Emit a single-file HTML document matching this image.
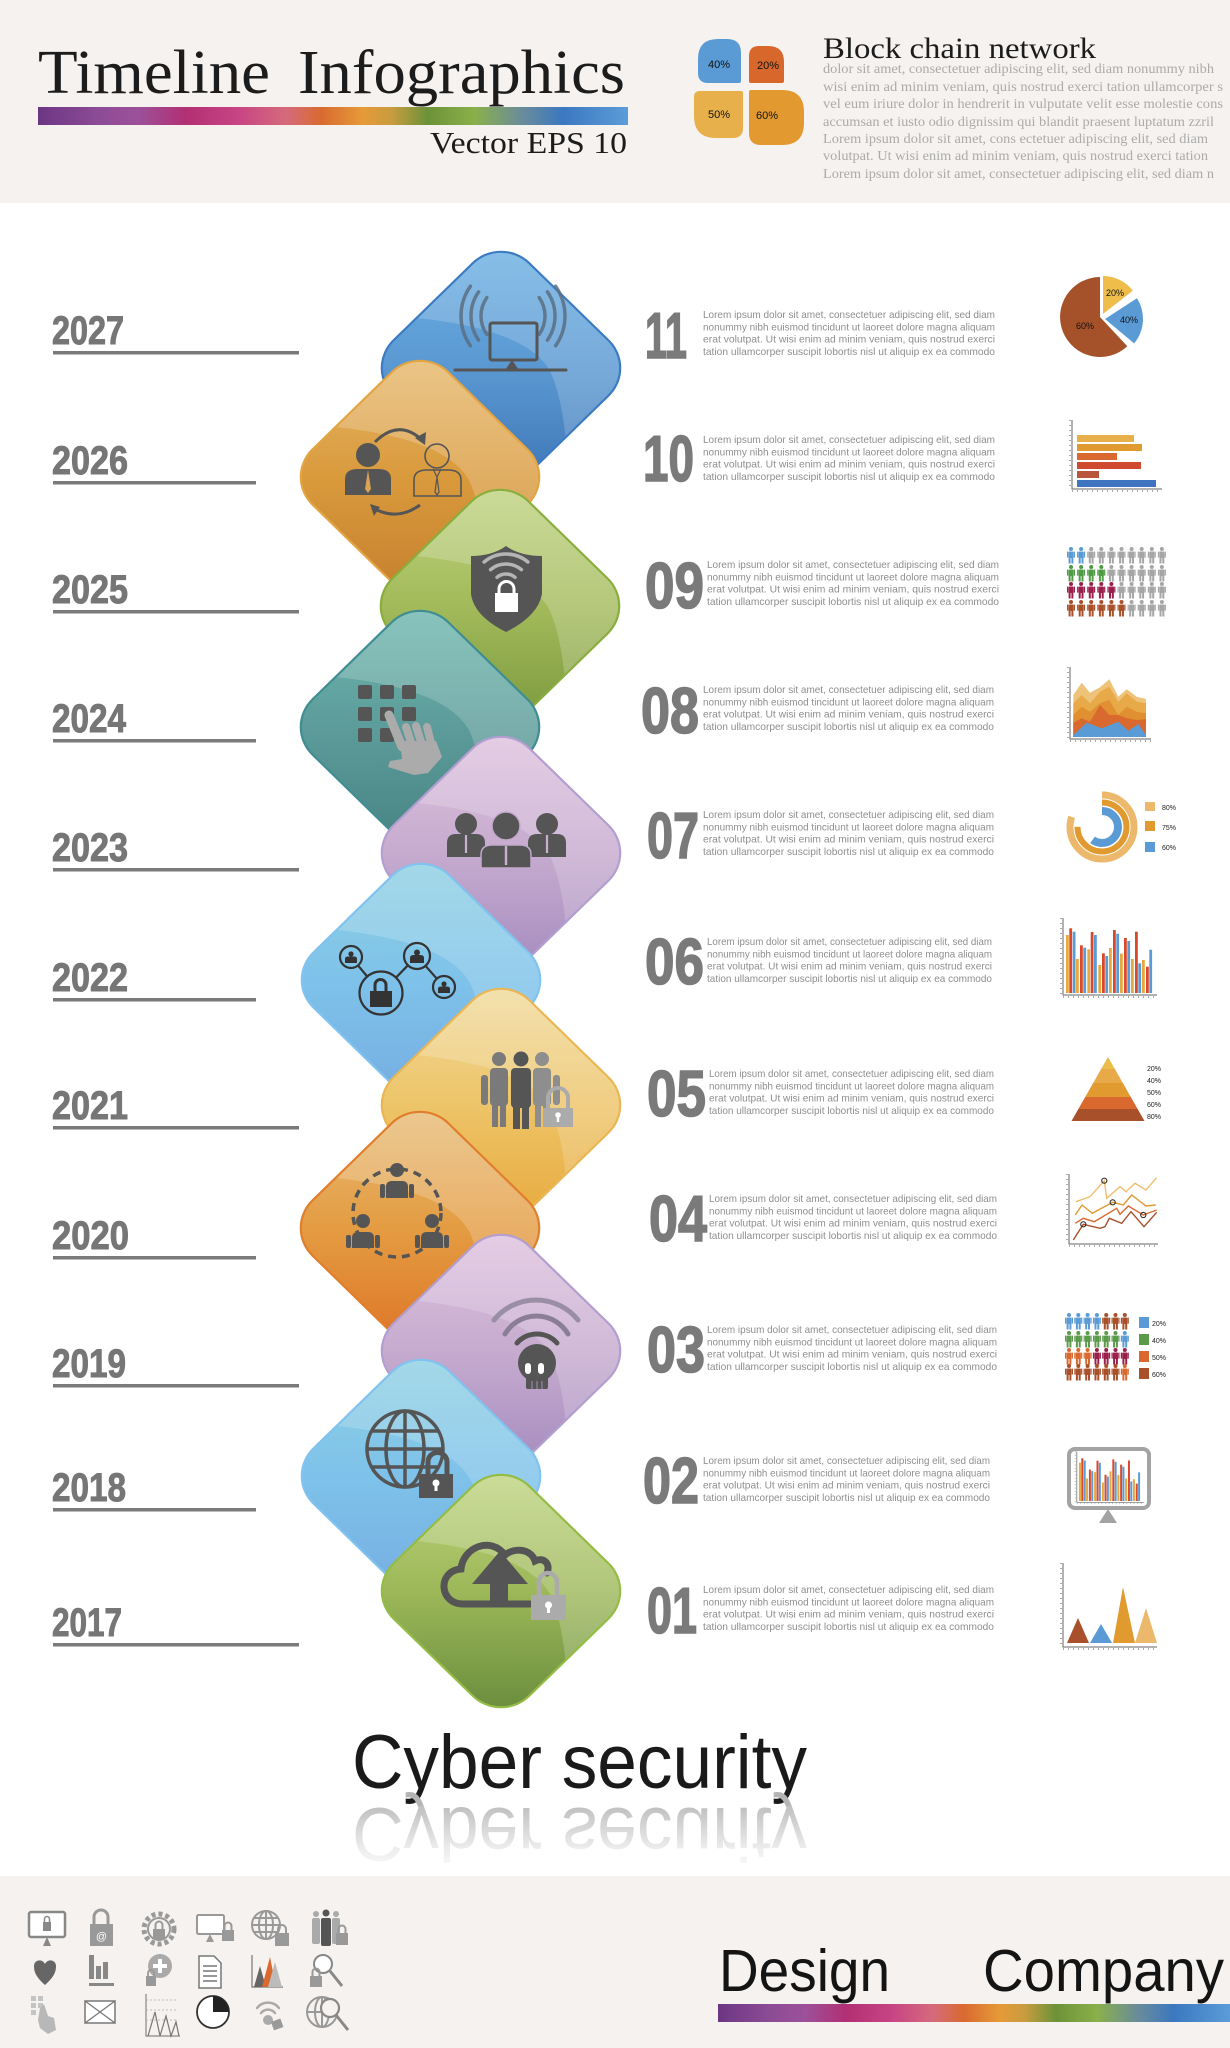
<!DOCTYPE html>
<html><head><meta charset="utf-8">
<style>
html,body{margin:0;padding:0;background:#fff;width:1230px;height:2048px;overflow:hidden;}
svg{display:block;}
.sf{font-family:"Liberation Serif",serif;}
.ss{font-family:"Liberation Sans",sans-serif;}
.yr{font-family:"Liberation Sans",sans-serif;font-weight:bold;font-size:40px;fill:#767676;stroke:#767676;stroke-width:1;}
.nm{font-family:"Liberation Sans",sans-serif;font-weight:bold;font-size:65px;fill:#7a7a7a;stroke:#7a7a7a;stroke-width:1.6;}
.lt{font-family:"Liberation Sans",sans-serif;font-size:10.5px;fill:#8e8e8e;}
.hp{font-family:"Liberation Serif",serif;font-size:13.5px;fill:#ababab;}
.sm{font-family:"Liberation Sans",sans-serif;font-size:7px;fill:#222;}
</style></head><body>
<svg width="1230" height="2048" viewBox="0 0 1230 2048" xmlns="http://www.w3.org/2000/svg">
<defs>
 <linearGradient id="rb" x1="0" y1="0" x2="1" y2="0">
  <stop offset="0" stop-color="#6c3684"/>
  <stop offset="0.1" stop-color="#8c4b95"/>
  <stop offset="0.17" stop-color="#9c5199"/>
  <stop offset="0.25" stop-color="#b22f74"/>
  <stop offset="0.34" stop-color="#c84584"/>
  <stop offset="0.42" stop-color="#d56a7c"/>
  <stop offset="0.48" stop-color="#d96a30"/>
  <stop offset="0.55" stop-color="#e69a38"/>
  <stop offset="0.6" stop-color="#c89c40"/>
  <stop offset="0.66" stop-color="#6c9238"/>
  <stop offset="0.74" stop-color="#8ab04a"/>
  <stop offset="0.82" stop-color="#6a8c9a"/>
  <stop offset="0.89" stop-color="#3b78c0"/>
  <stop offset="1" stop-color="#5c9cd8"/>
 </linearGradient>
 <linearGradient id="gB" x1="0" y1="0" x2="0" y2="1"><stop offset="0" stop-color="#6cb0e2"/><stop offset="0.5" stop-color="#5a98d2"/><stop offset="1" stop-color="#3f76b6"/></linearGradient>
 <linearGradient id="gO" x1="0" y1="0" x2="0" y2="1"><stop offset="0" stop-color="#e6b668"/><stop offset="0.5" stop-color="#d99a3c"/><stop offset="1" stop-color="#c7802e"/></linearGradient>
 <linearGradient id="gG" x1="0" y1="0" x2="0" y2="1"><stop offset="0" stop-color="#bed27e"/><stop offset="0.5" stop-color="#a2ba5a"/><stop offset="1" stop-color="#7c9a3e"/></linearGradient>
 <linearGradient id="gT" x1="0" y1="0" x2="0" y2="1"><stop offset="0" stop-color="#6eb6ae"/><stop offset="0.5" stop-color="#5c9c9a"/><stop offset="1" stop-color="#488484"/></linearGradient>
 <linearGradient id="gP" x1="0" y1="0" x2="0" y2="1"><stop offset="0" stop-color="#dec2de"/><stop offset="0.5" stop-color="#c6abcf"/><stop offset="1" stop-color="#a68cbf"/></linearGradient>
 <linearGradient id="gL" x1="0" y1="0" x2="0" y2="1"><stop offset="0" stop-color="#8ed0e2"/><stop offset="0.5" stop-color="#7ec2ea"/><stop offset="1" stop-color="#76aee2"/></linearGradient>
 <linearGradient id="gY" x1="0" y1="0" x2="0" y2="1"><stop offset="0" stop-color="#f0da9c"/><stop offset="0.5" stop-color="#edc468"/><stop offset="1" stop-color="#e8aa3e"/></linearGradient>
 <linearGradient id="gO2" x1="0" y1="0" x2="0" y2="1"><stop offset="0" stop-color="#e6ba74"/><stop offset="0.5" stop-color="#e49c42"/><stop offset="1" stop-color="#de7628"/></linearGradient>
 <linearGradient id="gG2" x1="0" y1="0" x2="0" y2="1"><stop offset="0" stop-color="#bed47e"/><stop offset="0.5" stop-color="#9cb858"/><stop offset="1" stop-color="#6c8e3e"/></linearGradient>
 <linearGradient id="fade" x1="0" y1="0" x2="0" y2="1"><stop offset="0" stop-color="#fff" stop-opacity="0.15"/><stop offset="0.6" stop-color="#fff" stop-opacity="0.75"/><stop offset="1" stop-color="#fff" stop-opacity="1"/></linearGradient>
 <path id="dia" d="M-28.28,-107.48 A40,40 0 0 1 28.28,-107.48 L107.48,-28.28 A40,40 0 0 1 107.48,28.28 L28.28,107.48 A40,40 0 0 1 -28.28,107.48 L-107.48,28.28 A40,40 0 0 1 -107.48,-28.28 Z"/>
 <clipPath id="dclip"><use href="#dia"/></clipPath>
 <path id="hl" d="M-130,-55 C-40,-50 30,-35 50,5 C62,35 66,70 68,130 L150,130 L150,-150 L-130,-150 Z"/>
 <g id="man">
  <circle cx="0" cy="2" r="2"/>
  <rect x="-2.6" y="4.5" width="5.2" height="6.5" rx="0.8"/>
  <rect x="-4" y="4.6" width="1.2" height="6"/>
  <rect x="2.8" y="4.6" width="1.2" height="6"/>
  <rect x="-2.4" y="10.5" width="2" height="6"/>
  <rect x="0.4" y="10.5" width="2" height="6"/>
 </g>
</defs>

<!-- backgrounds -->
<rect x="0" y="0" width="1230" height="203" fill="#f6f2ef"/>
<rect x="0" y="203" width="1230" height="1673" fill="#ffffff"/>
<rect x="0" y="1876" width="1230" height="172" fill="#f6f2ef"/>

<!-- header -->
<text class="sf" x="38" y="93" font-size="62" fill="#1c1c1c" textLength="232" lengthAdjust="spacingAndGlyphs">Timeline</text>
<text class="sf" x="298" y="93" font-size="62" fill="#1c1c1c" textLength="327" lengthAdjust="spacingAndGlyphs">Infographics</text>
<rect x="38" y="107" width="590" height="18" fill="url(#rb)"/>
<text class="sf" x="430" y="153" font-size="31" fill="#1c1c1c" textLength="197" lengthAdjust="spacingAndGlyphs">Vector  EPS 10</text>

<path d="M718,39 H727 Q741,39 741,53 V81 Q741,83 739,83 H708 Q698,83 698,73 V59 Q698,39 718,39 Z" fill="#5b9bd5"/>
<path d="M759,46 H768 Q784,46 784,62 V81 Q784,83 782,83 H751 Q749,83 749,81 V56 Q749,46 759,46 Z" fill="#d8672c"/>
<path d="M700,91 H741 Q743,91 743,93 V128 Q743,138 733,138 H716 Q694,138 694,116 V97 Q694,91 700,91 Z" fill="#e8b04a"/>
<path d="M751,90 H782 Q804,90 804,112 V123 Q804,145 782,145 H761 Q749,145 749,133 V92 Q749,90 751,90 Z" fill="#e29a30"/>
<text class="ss" x="719" y="68" font-size="11" fill="#111" text-anchor="middle">40%</text>
<text class="ss" x="768" y="69" font-size="11" fill="#111" text-anchor="middle">20%</text>
<text class="ss" x="719" y="118" font-size="11" fill="#111" text-anchor="middle">50%</text>
<text class="ss" x="767" y="119" font-size="11" fill="#111" text-anchor="middle">60%</text>

<text class="sf" x="823" y="58" font-size="30" fill="#1c1c1c" textLength="273" lengthAdjust="spacingAndGlyphs">Block chain network</text>
<text class="hp" x="823" y="73" textLength="391" lengthAdjust="spacingAndGlyphs">dolor sit amet, consectetuer adipiscing elit, sed diam nonummy nibh</text>
<text class="hp" x="823" y="91" textLength="400" lengthAdjust="spacingAndGlyphs">wisi enim ad minim veniam, quis nostrud exerci tation ullamcorper s</text>
<text class="hp" x="823" y="108" textLength="400" lengthAdjust="spacingAndGlyphs">vel eum iriure dolor in hendrerit in vulputate velit esse molestie cons</text>
<text class="hp" x="823" y="126" textLength="391" lengthAdjust="spacingAndGlyphs">accumsan et iusto odio dignissim qui blandit praesent luptatum zzril</text>
<text class="hp" x="823" y="143" textLength="385" lengthAdjust="spacingAndGlyphs">Lorem ipsum dolor sit amet, cons ectetuer adipiscing elit, sed diam</text>
<text class="hp" x="823" y="160" textLength="385" lengthAdjust="spacingAndGlyphs">volutpat. Ut wisi enim ad minim veniam, quis nostrud exerci tation</text>
<text class="hp" x="823" y="178" textLength="391" lengthAdjust="spacingAndGlyphs">Lorem ipsum dolor sit amet, consectetuer adipiscing elit, sed diam n</text>

<!-- years -->
<g fill="#7a7a7a">
 <rect x="53" y="351" width="246" height="3.5"/>
 <rect x="53" y="481" width="203" height="3.5"/>
 <rect x="53" y="610" width="246" height="3.5"/>
 <rect x="53" y="739" width="203" height="3.5"/>
 <rect x="53" y="868" width="246" height="3.5"/>
 <rect x="53" y="998" width="203" height="3.5"/>
 <rect x="53" y="1126" width="246" height="3.5"/>
 <rect x="53" y="1256" width="203" height="3.5"/>
 <rect x="53" y="1384" width="246" height="3.5"/>
 <rect x="53" y="1508" width="203" height="3.5"/>
 <rect x="53" y="1643" width="246" height="3.5"/>
</g>
<text class="yr" x="52" y="344" textLength="72" lengthAdjust="spacingAndGlyphs">2027</text>
<text class="yr" x="52" y="474" textLength="76" lengthAdjust="spacingAndGlyphs">2026</text>
<text class="yr" x="52" y="603" textLength="76" lengthAdjust="spacingAndGlyphs">2025</text>
<text class="yr" x="52" y="732" textLength="74" lengthAdjust="spacingAndGlyphs">2024</text>
<text class="yr" x="52" y="861" textLength="76" lengthAdjust="spacingAndGlyphs">2023</text>
<text class="yr" x="52" y="991" textLength="76" lengthAdjust="spacingAndGlyphs">2022</text>
<text class="yr" x="52" y="1119" textLength="76" lengthAdjust="spacingAndGlyphs">2021</text>
<text class="yr" x="52" y="1249" textLength="77" lengthAdjust="spacingAndGlyphs">2020</text>
<text class="yr" x="52" y="1377" textLength="74" lengthAdjust="spacingAndGlyphs">2019</text>
<text class="yr" x="52" y="1501" textLength="74" lengthAdjust="spacingAndGlyphs">2018</text>
<text class="yr" x="52" y="1636" textLength="70" lengthAdjust="spacingAndGlyphs">2017</text>

<!-- DIAMONDS -->
<g transform="translate(501,368) scale(1,0.975)">
 <use href="#dia" fill="url(#gB)"/>
 <use href="#hl" fill="#fff" opacity="0.18" clip-path="url(#dclip)"/>
 <use href="#dia" fill="none" stroke="#3b7bc2" stroke-width="2.2"/>
</g>
<g transform="translate(501,368)" fill="none" stroke-linecap="round">
 <g stroke="#5a6f84" stroke-width="3.5" opacity="0.85">
  <path d="M-14.2,-70.4 A32,32 0 0 0 -14.2,-33.6"/>
  <path d="M-22.4,-76.1 A42,42 0 0 0 -22.4,-27.9"/>
  <path d="M-30.6,-81.8 A52,52 0 0 0 -30.6,-22.2"/>
  <path d="M38.2,-70.4 A32,32 0 0 1 38.2,-33.6"/>
  <path d="M46.4,-76.1 A42,42 0 0 1 46.4,-27.9"/>
  <path d="M54.6,-81.8 A52,52 0 0 1 54.6,-22.2"/>
 </g>
 <rect x="-11" y="-45" width="47" height="37" rx="2" stroke="#555" stroke-width="3"/>
 <path d="M-46,2 H65" stroke="#555" stroke-width="3"/>
 <polygon points="11,-8 4,2 18,2" fill="#555"/>
</g>

<g transform="translate(420,477) scale(1,0.975)">
 <use href="#dia" fill="url(#gO)"/>
 <use href="#hl" fill="#fff" opacity="0.2" clip-path="url(#dclip)"/>
 <use href="#dia" fill="none" stroke="#e3a442" stroke-width="2.2"/>
</g>
<g transform="translate(420,477)">
 <circle cx="-52" cy="-22" r="12" fill="#555"/>
 <path d="M-75,18 V2 Q-75,-8 -62,-8 H-42 Q-29,-8 -29,2 V18 Z" fill="#555"/>
 <path d="M-52,-7 L-55,12 L-52,16 L-49,12 Z" fill="#d8a458"/>
 <circle cx="17" cy="-21" r="12" fill="none" stroke="#555" stroke-width="1.6"/>
 <path d="M-6,19 V3 Q-6,-7 7,-7 H28 Q41,-7 41,3 V19 Z" fill="none" stroke="#555" stroke-width="1.6"/>
 <path d="M13,-8 L17,0 L21,-8 M17,0 L15,15 L17,18 L19,15 Z" fill="none" stroke="#555" stroke-width="1.2"/>
 <path d="M-45,-35 Q-22,-58 1,-38" fill="none" stroke="#555" stroke-width="3"/>
 <polygon points="5,-32 -5,-39 6,-45" fill="#555"/>
 <path d="M0,28 Q-22,44 -45,32" fill="none" stroke="#555" stroke-width="3"/>
 <polygon points="-50,27 -46,39 -40,30" fill="#555"/>
</g>

<g transform="translate(500,606) scale(1,0.975)">
 <use href="#dia" fill="url(#gG)"/>
 <use href="#hl" fill="#fff" opacity="0.2" clip-path="url(#dclip)"/>
 <use href="#dia" fill="none" stroke="#8aae3e" stroke-width="2.2"/>
</g>
<g transform="translate(500,606)">
 <path d="M-29,-50 Q-8,-50 6,-60 Q20,-50 42,-50 L42,-12 Q38,10 6,26 Q-26,10 -29,-12 Z" fill="#555"/>
 <g fill="none" stroke="#b5b5b5" stroke-width="3.5" stroke-linecap="round">
  <path d="M-3,-28.7 A14,14 0 0 1 15,-28.7"/>
  <path d="M-9.4,-36.4 A24,24 0 0 1 21.4,-36.4"/>
  <path d="M-15.9,-44 A34,34 0 0 1 27.9,-44"/>
 </g>
 <path d="M-1,-12 V-17 A7.5,7.5 0 0 1 14,-17 V-12" fill="none" stroke="#fff" stroke-width="3"/>
 <rect x="-5" y="-13" width="23" height="19" fill="#fff"/>
</g>

<g transform="translate(420,727) scale(1,0.975)">
 <use href="#dia" fill="url(#gT)"/>
 <use href="#hl" fill="#fff" opacity="0.18" clip-path="url(#dclip)"/>
 <use href="#dia" fill="none" stroke="#3f8d92" stroke-width="2.2"/>
</g>
<g transform="translate(420,727)">
 <g fill="#555">
  <rect x="-62" y="-42" width="14" height="14" rx="2"/><rect x="-40" y="-42" width="14" height="14" rx="2"/><rect x="-18" y="-42" width="14" height="14" rx="2"/>
  <rect x="-62" y="-20" width="14" height="14" rx="2"/><rect x="-40" y="-20" width="14" height="14" rx="2"/><rect x="-18" y="-20" width="14" height="14" rx="2"/>
  <rect x="-62" y="1" width="14" height="14" rx="2"/><rect x="-40" y="1" width="14" height="14" rx="2"/>
 </g>
 <g stroke="#ababab" stroke-linecap="round" fill="none">
  <path d="M-31,-12 L-18,20" stroke-width="9"/>
  <path d="M-14,0 L-8,18" stroke-width="8"/>
  <path d="M-4,-1 L2,18" stroke-width="8"/>
  <path d="M7,0 L12,20" stroke-width="8"/>
 </g>
 <path d="M-20,14 L16,14 L22,30 L8,46 L-6,48 L-32,40 L-30,34 L-18,32 Z" fill="#ababab"/>
</g>

<g transform="translate(501,853) scale(1,0.975)">
 <use href="#dia" fill="url(#gP)"/>
 <use href="#hl" fill="#fff" opacity="0.18" clip-path="url(#dclip)"/>
 <use href="#dia" fill="none" stroke="#b29ed0" stroke-width="2.2"/>
</g>
<g transform="translate(501,853)" fill="#555">
 <circle cx="-35" cy="-29" r="11"/>
 <path d="M-54,4 V-10 Q-54,-19 -45,-19 H-25 Q-16,-19 -16,-10 V4 Z"/>
 <circle cx="46" cy="-29" r="11"/>
 <path d="M27,4 V-10 Q27,-19 36,-19 H56 Q65,-19 65,-10 V4 Z"/>
 <path d="M-35,-18 V0 M46,-18 V0" stroke="#c9b0d2" stroke-width="2.2"/>
 <circle cx="5" cy="-27" r="14" stroke="#c4a9cd" stroke-width="1.5"/>
 <path d="M-20,15 V2 Q-20,-8 -9,-8 H19 Q30,-8 30,2 V15 Z" stroke="#c4a9cd" stroke-width="1.5"/>
 <path d="M5,-7 V12" stroke="#c9b0d2" stroke-width="2.4"/>
</g>

<g transform="translate(421,980) scale(1,0.975)">
 <use href="#dia" fill="url(#gL)"/>
 <use href="#hl" fill="#fff" opacity="0.18" clip-path="url(#dclip)"/>
 <use href="#dia" fill="none" stroke="#80c2f0" stroke-width="2.2"/>
</g>
<g transform="translate(421,980)">
 <g stroke="#333" stroke-width="2.2" fill="none">
  <path d="M-53.8,-3.5 L-63,-14.6 M-25,-2.4 L-13.1,-14.7 M4.5,-14.2 L15.8,-1.3"/>
  <circle cx="-40" cy="13" r="21.5"/>
  <circle cx="-70" cy="-23" r="11"/>
  <circle cx="-4" cy="-24" r="13"/>
  <circle cx="23" cy="7" r="11"/>
  <path d="M-46,12 V5 A5.5,5.5 0 0 1 -35,5 V12" stroke-width="3"/>
 </g>
 <rect x="-51" y="11" width="22" height="16" fill="#333"/>
 <g fill="#333">
  <circle cx="-70" cy="-26" r="2.6"/><path d="M-76,-17 V-21 Q-76,-23.5 -73,-23.5 H-67 Q-64,-23.5 -64,-21 V-17 Z"/>
  <circle cx="-4" cy="-27.5" r="3"/><path d="M-11,-17 V-22 Q-11,-25 -7.5,-25 H-0.5 Q3,-25 3,-22 V-17 Z"/>
  <circle cx="23" cy="4" r="2.6"/><path d="M17,13 V9 Q17,6.5 20,6.5 H26 Q29,6.5 29,9 V13 Z"/>
 </g>
</g>

<g transform="translate(501,1105) scale(1,0.975)">
 <use href="#dia" fill="url(#gY)"/>
 <use href="#hl" fill="#fff" opacity="0.18" clip-path="url(#dclip)"/>
 <use href="#dia" fill="none" stroke="#eab654" stroke-width="2.2"/>
</g>
<g transform="translate(501,1105)">
 <rect x="-20" y="-30" width="7" height="30" rx="3" fill="#7a7a7a"/>
 <rect x="52" y="-30" width="7" height="30" rx="3" fill="#8e8e8e"/>
 <g fill="#7a7a7a"><circle cx="-2" cy="-46" r="7"/><rect x="-11" y="-37" width="18" height="38" rx="4"/><rect x="-9" y="0" width="6" height="22"/><rect x="-1" y="0" width="6" height="22"/></g>
 <g fill="#8e8e8e"><circle cx="41" cy="-46" r="7"/><rect x="32" y="-37" width="18" height="38" rx="4"/><rect x="34" y="0" width="6" height="22"/><rect x="42" y="0" width="6" height="22"/></g>
 <g fill="#555"><circle cx="20" cy="-46" r="7.5"/><rect x="10" y="-37" width="20" height="40" rx="4"/><rect x="12" y="0" width="7" height="24"/><rect x="21" y="0" width="7" height="24"/></g>
 <path d="M47,4 V-7 A10,10 0 0 1 67,-7 V4" fill="none" stroke="#ababab" stroke-width="4"/>
 <rect x="42" y="3" width="30" height="19" fill="#ababab"/>
 <circle cx="57" cy="10" r="2.8" fill="#fff"/><rect x="55.8" y="10" width="2.4" height="7" fill="#fff"/>
</g>

<g transform="translate(420,1228) scale(1,0.975)">
 <use href="#dia" fill="url(#gO2)"/>
 <use href="#hl" fill="#fff" opacity="0.2" clip-path="url(#dclip)"/>
 <use href="#dia" fill="none" stroke="#e07e2c" stroke-width="2.2"/>
</g>
<g transform="translate(420,1228)">
 <circle cx="-23" cy="-15" r="44" fill="none" stroke="#555" stroke-width="3.5" stroke-dasharray="8 6"/>
 <g fill="#555">
  <circle cx="-23" cy="-58" r="7"/><path d="M-34,-30 V-41 Q-34,-47 -28,-47 H-18 Q-12,-47 -12,-41 V-30 Z"/><rect x="-40" y="-44" width="5" height="14" rx="2"/><rect x="-11" y="-44" width="5" height="14" rx="2"/>
  <circle cx="-57" cy="-7" r="7"/><path d="M-68,20 V10 Q-68,4 -62,4 H-52 Q-46,4 -46,10 V20 Z"/><rect x="-74" y="7" width="5" height="13" rx="2"/><rect x="-45" y="7" width="5" height="13" rx="2"/>
  <circle cx="12" cy="-7" r="7"/><path d="M1,20 V10 Q1,4 7,4 H17 Q23,4 23,10 V20 Z"/><rect x="-5" y="7" width="5" height="13" rx="2"/><rect x="24" y="7" width="5" height="13" rx="2"/>
 </g>
</g>

<g transform="translate(501,1351) scale(1,0.975)">
 <use href="#dia" fill="url(#gP)"/>
 <use href="#hl" fill="#fff" opacity="0.18" clip-path="url(#dclip)"/>
 <use href="#dia" fill="none" stroke="#b29ed0" stroke-width="2.2"/>
</g>
<g transform="translate(501,1351)">
 <g fill="none" stroke-linecap="round" stroke-width="5">
  <path d="M-7,-31 A54,54 0 0 1 77,-31" stroke="#9a8ea4"/>
  <path d="M4,-17 A36.6,36.6 0 0 1 67,-17" stroke="#8a7e96"/>
  <path d="M16,-8 A26.7,26.7 0 0 1 56,-8" stroke="#555"/>
 </g>
 <circle cx="36" cy="12" r="19" fill="#555"/>
 <rect x="25" y="22" width="22" height="16" rx="2" fill="#555"/>
 <path d="M31,30 V38 M36,30 V38 M41,30 V38" stroke="#a58dba" stroke-width="1"/>
 <rect x="24" y="12" width="6" height="11" rx="3" fill="#fff"/>
 <rect x="37" y="12" width="6" height="11" rx="3" fill="#fff"/>
</g>

<g transform="translate(421,1476) scale(1,0.975)">
 <use href="#dia" fill="url(#gL)"/>
 <use href="#hl" fill="#fff" opacity="0.18" clip-path="url(#dclip)"/>
 <use href="#dia" fill="none" stroke="#80c2f0" stroke-width="2.2"/>
</g>
<g transform="translate(421,1476)">
 <g fill="none" stroke="#555" stroke-width="3.5">
  <circle cx="-16" cy="-27" r="38"/>
  <ellipse cx="-16" cy="-27" rx="19" ry="38"/>
  <path d="M-16,-65 V11 M-54,-27 H22 M-49.5,-45 H17.5 M-49.5,-9 H17.5"/>
 </g>
 <path d="M7,-2 V-14 A9.5,9.5 0 0 1 26,-14 V-2" fill="none" stroke="#555" stroke-width="5"/>
 <rect x="-2" y="-2" width="34" height="24" fill="#555"/>
 <circle cx="15" cy="7" r="3.5" fill="#fff"/><rect x="13.5" y="7" width="3" height="8" fill="#fff"/>
</g>

<g transform="translate(501,1591) scale(1,0.975)">
 <use href="#dia" fill="url(#gG2)"/>
 <use href="#hl" fill="#fff" opacity="0.2" clip-path="url(#dclip)"/>
 <use href="#dia" fill="none" stroke="#94bc44" stroke-width="2.2"/>
</g>
<g transform="translate(501,1591)">
 <path d="M30,13 H-38 C-62,13 -64,-20 -40,-22 C-38,-44 -10,-55 4,-36 C14,-44 30,-42 34,-30 C42,-34 50,-28 46,-18" fill="none" stroke="#555" stroke-width="7" stroke-linecap="round"/>
 <polygon points="-1,-40 -29,-7 27,-7" fill="#555"/>
 <rect x="-11" y="-8" width="18" height="18" fill="#555"/>
 <path d="M38,5 V-9 A9,9 0 0 1 56,-9 V5" fill="none" stroke="#ababab" stroke-width="4.5"/>
 <rect x="30" y="4" width="35" height="25" fill="#ababab"/>
 <circle cx="47.5" cy="14" r="3.5" fill="#fff"/><rect x="46" y="14" width="3" height="8" fill="#fff"/>
</g>

<!-- NUMBERS & TEXT -->
<text class="nm" x="645" y="358" textLength="42" lengthAdjust="spacingAndGlyphs">11</text>
<text class="nm" x="643" y="481" textLength="51" lengthAdjust="spacingAndGlyphs">10</text>
<text class="nm" x="645" y="608" textLength="59" lengthAdjust="spacingAndGlyphs">09</text>
<text class="nm" x="641" y="733" textLength="58" lengthAdjust="spacingAndGlyphs">08</text>
<text class="nm" x="647" y="858" textLength="52" lengthAdjust="spacingAndGlyphs">07</text>
<text class="nm" x="645" y="984" textLength="59" lengthAdjust="spacingAndGlyphs">06</text>
<text class="nm" x="647" y="1116" textLength="59" lengthAdjust="spacingAndGlyphs">05</text>
<text class="nm" x="649" y="1241" textLength="58" lengthAdjust="spacingAndGlyphs">04</text>
<text class="nm" x="647" y="1372" textLength="58" lengthAdjust="spacingAndGlyphs">03</text>
<text class="nm" x="643" y="1503" textLength="56" lengthAdjust="spacingAndGlyphs">02</text>
<text class="nm" x="647" y="1633" textLength="50" lengthAdjust="spacingAndGlyphs">01</text>

<g class="lt">
<text x="703" y="318" textLength="292" lengthAdjust="spacingAndGlyphs">Lorem ipsum dolor sit amet, consectetuer adipiscing elit, sed diam</text>
<text x="703" y="330.3" textLength="292" lengthAdjust="spacingAndGlyphs">nonummy nibh euismod tincidunt ut laoreet dolore magna aliquam</text>
<text x="703" y="342.7" textLength="292" lengthAdjust="spacingAndGlyphs">erat volutpat. Ut wisi enim ad minim veniam, quis nostrud exerci</text>
<text x="703" y="355" textLength="292" lengthAdjust="spacingAndGlyphs">tation ullamcorper suscipit lobortis nisl ut aliquip ex ea commodo</text>

<text x="703" y="443" textLength="292" lengthAdjust="spacingAndGlyphs">Lorem ipsum dolor sit amet, consectetuer adipiscing elit, sed diam</text>
<text x="703" y="455.3" textLength="292" lengthAdjust="spacingAndGlyphs">nonummy nibh euismod tincidunt ut laoreet dolore magna aliquam</text>
<text x="703" y="467.7" textLength="292" lengthAdjust="spacingAndGlyphs">erat volutpat. Ut wisi enim ad minim veniam, quis nostrud exerci</text>
<text x="703" y="480" textLength="292" lengthAdjust="spacingAndGlyphs">tation ullamcorper suscipit lobortis nisl ut aliquip ex ea commodo</text>

<text x="707" y="568" textLength="292" lengthAdjust="spacingAndGlyphs">Lorem ipsum dolor sit amet, consectetuer adipiscing elit, sed diam</text>
<text x="707" y="580.3" textLength="292" lengthAdjust="spacingAndGlyphs">nonummy nibh euismod tincidunt ut laoreet dolore magna aliquam</text>
<text x="707" y="592.7" textLength="292" lengthAdjust="spacingAndGlyphs">erat volutpat. Ut wisi enim ad minim veniam, quis nostrud exerci</text>
<text x="707" y="605" textLength="292" lengthAdjust="spacingAndGlyphs">tation ullamcorper suscipit lobortis nisl ut aliquip ex ea commodo</text>

<text x="703" y="693" textLength="291" lengthAdjust="spacingAndGlyphs">Lorem ipsum dolor sit amet, consectetuer adipiscing elit, sed diam</text>
<text x="703" y="705.3" textLength="291" lengthAdjust="spacingAndGlyphs">nonummy nibh euismod tincidunt ut laoreet dolore magna aliquam</text>
<text x="703" y="717.7" textLength="291" lengthAdjust="spacingAndGlyphs">erat volutpat. Ut wisi enim ad minim veniam, quis nostrud exerci</text>
<text x="703" y="730" textLength="291" lengthAdjust="spacingAndGlyphs">tation ullamcorper suscipit lobortis nisl ut aliquip ex ea commodo</text>

<text x="703" y="818" textLength="291" lengthAdjust="spacingAndGlyphs">Lorem ipsum dolor sit amet, consectetuer adipiscing elit, sed diam</text>
<text x="703" y="830.3" textLength="291" lengthAdjust="spacingAndGlyphs">nonummy nibh euismod tincidunt ut laoreet dolore magna aliquam</text>
<text x="703" y="842.7" textLength="291" lengthAdjust="spacingAndGlyphs">erat volutpat. Ut wisi enim ad minim veniam, quis nostrud exerci</text>
<text x="703" y="855" textLength="291" lengthAdjust="spacingAndGlyphs">tation ullamcorper suscipit lobortis nisl ut aliquip ex ea commodo</text>

<text x="707" y="945" textLength="285" lengthAdjust="spacingAndGlyphs">Lorem ipsum dolor sit amet, consectetuer adipiscing elit, sed diam</text>
<text x="707" y="957.3" textLength="285" lengthAdjust="spacingAndGlyphs">nonummy nibh euismod tincidunt ut laoreet dolore magna aliquam</text>
<text x="707" y="969.7" textLength="285" lengthAdjust="spacingAndGlyphs">erat volutpat. Ut wisi enim ad minim veniam, quis nostrud exerci</text>
<text x="707" y="982" textLength="285" lengthAdjust="spacingAndGlyphs">tation ullamcorper suscipit lobortis nisl ut aliquip ex ea commodo</text>

<text x="709" y="1077" textLength="285" lengthAdjust="spacingAndGlyphs">Lorem ipsum dolor sit amet, consectetuer adipiscing elit, sed diam</text>
<text x="709" y="1089.3" textLength="285" lengthAdjust="spacingAndGlyphs">nonummy nibh euismod tincidunt ut laoreet dolore magna aliquam</text>
<text x="709" y="1101.7" textLength="285" lengthAdjust="spacingAndGlyphs">erat volutpat. Ut wisi enim ad minim veniam, quis nostrud exerci</text>
<text x="709" y="1114" textLength="285" lengthAdjust="spacingAndGlyphs">tation ullamcorper suscipit lobortis nisl ut aliquip ex ea commodo</text>

<text x="709" y="1202" textLength="288" lengthAdjust="spacingAndGlyphs">Lorem ipsum dolor sit amet, consectetuer adipiscing elit, sed diam</text>
<text x="709" y="1214.3" textLength="288" lengthAdjust="spacingAndGlyphs">nonummy nibh euismod tincidunt ut laoreet dolore magna aliquam</text>
<text x="709" y="1226.7" textLength="288" lengthAdjust="spacingAndGlyphs">erat volutpat. Ut wisi enim ad minim veniam, quis nostrud exerci</text>
<text x="709" y="1239" textLength="288" lengthAdjust="spacingAndGlyphs">tation ullamcorper suscipit lobortis nisl ut aliquip ex ea commodo</text>

<text x="707" y="1333" textLength="290" lengthAdjust="spacingAndGlyphs">Lorem ipsum dolor sit amet, consectetuer adipiscing elit, sed diam</text>
<text x="707" y="1345.3" textLength="290" lengthAdjust="spacingAndGlyphs">nonummy nibh euismod tincidunt ut laoreet dolore magna aliquam</text>
<text x="707" y="1357.7" textLength="290" lengthAdjust="spacingAndGlyphs">erat volutpat. Ut wisi enim ad minim veniam, quis nostrud exerci</text>
<text x="707" y="1370" textLength="290" lengthAdjust="spacingAndGlyphs">tation ullamcorper suscipit lobortis nisl ut aliquip ex ea commodo</text>

<text x="703" y="1464" textLength="287" lengthAdjust="spacingAndGlyphs">Lorem ipsum dolor sit amet, consectetuer adipiscing elit, sed diam</text>
<text x="703" y="1476.3" textLength="287" lengthAdjust="spacingAndGlyphs">nonummy nibh euismod tincidunt ut laoreet dolore magna aliquam</text>
<text x="703" y="1488.7" textLength="287" lengthAdjust="spacingAndGlyphs">erat volutpat. Ut wisi enim ad minim veniam, quis nostrud exerci</text>
<text x="703" y="1501" textLength="287" lengthAdjust="spacingAndGlyphs">tation ullamcorper suscipit lobortis nisl ut aliquip ex ea commodo</text>

<text x="703" y="1593" textLength="291" lengthAdjust="spacingAndGlyphs">Lorem ipsum dolor sit amet, consectetuer adipiscing elit, sed diam</text>
<text x="703" y="1605.3" textLength="291" lengthAdjust="spacingAndGlyphs">nonummy nibh euismod tincidunt ut laoreet dolore magna aliquam</text>
<text x="703" y="1617.7" textLength="291" lengthAdjust="spacingAndGlyphs">erat volutpat. Ut wisi enim ad minim veniam, quis nostrud exerci</text>
<text x="703" y="1630" textLength="291" lengthAdjust="spacingAndGlyphs">tation ullamcorper suscipit lobortis nisl ut aliquip ex ea commodo</text>
</g>

<!-- CHARTS -->
<path d="M1100,317 L1127.3,346.3 A40,40 0 1 1 1100,277 Z" fill="#a5522a"/>
<path d="M1103,314 L1103,276 A38,38 0 0 1 1132.9,290.6 Z" fill="#eebd4a"/>
<path d="M1105,319 L1136.9,298.3 A38,38 0 0 1 1134.1,343.4 Z" fill="#5b9bd5"/>
<text class="ss" x="1106" y="296" font-size="9" fill="#111">20%</text>
<text class="ss" x="1120" y="323" font-size="9" fill="#111">40%</text>
<text class="ss" x="1076" y="329" font-size="9" fill="#111">60%</text>

<path d="M1072,420 V489 H1162" fill="none" stroke="#666" stroke-width="1"/>
<path d="M1070,420 V489 M1072,491 H1162" fill="none" stroke="#aaa" stroke-width="2" stroke-dasharray="1 4"/>
<rect x="1077" y="435" width="57" height="7" fill="#e8b04a"/>
<rect x="1077" y="444" width="65" height="7" fill="#e09a30"/>
<rect x="1077" y="453" width="40" height="7" fill="#d9692e"/>
<rect x="1077" y="462" width="64" height="7" fill="#d04a30"/>
<rect x="1077" y="471" width="22" height="7" fill="#b8553a"/>
<rect x="1077" y="480" width="79" height="7" fill="#3e74c0"/>

<g>
 <use href="#man" x="1071" y="547" fill="#5b9bd5"/><use href="#man" x="1081.1" y="547" fill="#5b9bd5"/>
 <use href="#man" x="1091.2" y="547" fill="#a6a6a6"/><use href="#man" x="1101.3" y="547" fill="#a6a6a6"/><use href="#man" x="1111.4" y="547" fill="#a6a6a6"/><use href="#man" x="1121.5" y="547" fill="#a6a6a6"/><use href="#man" x="1131.6" y="547" fill="#a6a6a6"/><use href="#man" x="1141.7" y="547" fill="#a6a6a6"/><use href="#man" x="1151.8" y="547" fill="#a6a6a6"/><use href="#man" x="1161.9" y="547" fill="#a6a6a6"/>
 <use href="#man" x="1071" y="565" fill="#4f9a44"/><use href="#man" x="1081.1" y="565" fill="#4f9a44"/><use href="#man" x="1091.2" y="565" fill="#4f9a44"/><use href="#man" x="1101.3" y="565" fill="#4f9a44"/>
 <use href="#man" x="1111.4" y="565" fill="#a6a6a6"/><use href="#man" x="1121.5" y="565" fill="#a6a6a6"/><use href="#man" x="1131.6" y="565" fill="#a6a6a6"/><use href="#man" x="1141.7" y="565" fill="#a6a6a6"/><use href="#man" x="1151.8" y="565" fill="#a6a6a6"/><use href="#man" x="1161.9" y="565" fill="#a6a6a6"/>
 <use href="#man" x="1071" y="582" fill="#9a1f4a"/><use href="#man" x="1081.1" y="582" fill="#9a1f4a"/><use href="#man" x="1091.2" y="582" fill="#9a1f4a"/><use href="#man" x="1101.3" y="582" fill="#9a1f4a"/><use href="#man" x="1111.4" y="582" fill="#9a1f4a"/>
 <use href="#man" x="1121.5" y="582" fill="#a6a6a6"/><use href="#man" x="1131.6" y="582" fill="#a6a6a6"/><use href="#man" x="1141.7" y="582" fill="#a6a6a6"/><use href="#man" x="1151.8" y="582" fill="#a6a6a6"/><use href="#man" x="1161.9" y="582" fill="#a6a6a6"/>
 <use href="#man" x="1071" y="600" fill="#a8502a"/><use href="#man" x="1081.1" y="600" fill="#a8502a"/><use href="#man" x="1091.2" y="600" fill="#a8502a"/><use href="#man" x="1101.3" y="600" fill="#a8502a"/><use href="#man" x="1111.4" y="600" fill="#a8502a"/><use href="#man" x="1121.5" y="600" fill="#a8502a"/>
 <use href="#man" x="1131.6" y="600" fill="#a6a6a6"/><use href="#man" x="1141.7" y="600" fill="#a6a6a6"/><use href="#man" x="1151.8" y="600" fill="#a6a6a6"/><use href="#man" x="1161.9" y="600" fill="#a6a6a6"/>
</g>

<polygon points="1073.3,695 1081.7,682.7 1090,692.7 1100,687.3 1109.3,679.3 1118.3,696.7 1126.7,689.3 1136.7,696.7 1146,699 1146,737 1073.3,737" fill="#efc27a"/>
<polygon points="1073.3,703.3 1081.7,695 1090,703.3 1100,691.7 1109.3,686.7 1118.3,701.7 1126.7,693.3 1136.7,701.7 1146,703.3 1146,737 1073.3,737" fill="#e8aa48"/>
<polygon points="1073.3,715 1081.7,706.7 1090,711.7 1100,703.3 1109.3,700 1118.3,715 1126.7,706.7 1136.7,711.7 1146,713.3 1146,737 1073.3,737" fill="#e09030"/>
<polygon points="1073.3,722.7 1081.7,718.3 1090,721.7 1100,705 1109.3,715 1118.3,715 1126.7,718.3 1136.7,720 1146,719.3 1146,737 1073.3,737" fill="#d9692e"/>
<polygon points="1073.3,735 1086.7,722.7 1101.7,728.3 1118.3,721.7 1128.3,730.7 1138.3,724 1146,735 1146,737 1073.3,737" fill="#5b9bd5"/>
<path d="M1070,667 V739 H1151" fill="none" stroke="#666" stroke-width="1"/>
<path d="M1068,667 V739 M1070,741 H1151" fill="none" stroke="#aaa" stroke-width="2" stroke-dasharray="1 4"/>

<g fill="none" transform="rotate(-90 1102 827)">
 <circle cx="1102" cy="827" r="32" stroke="#ecb96c" stroke-width="7" stroke-dasharray="160.85 300"/>
 <circle cx="1102" cy="827" r="24.5" stroke="#e09a30" stroke-width="6" stroke-dasharray="115.45 300"/>
 <circle cx="1102" cy="827" r="16" stroke="#5b9bd5" stroke-width="8" stroke-dasharray="60.3 300"/>
</g>
<rect x="1145" y="802" width="10" height="9" fill="#ecb96c"/>
<rect x="1145" y="821" width="10" height="10" fill="#e09a30"/>
<rect x="1145" y="842" width="10" height="10" fill="#5b9bd5"/>
<text class="sm" x="1162" y="810">80%</text>
<text class="sm" x="1162" y="830">75%</text>
<text class="sm" x="1162" y="850">60%</text>

<g id="bars6">
 <path d="M1063,918 V995 H1157" fill="none" stroke="#666" stroke-width="1"/>
 <path d="M1061,918 V995 M1063,997 H1157" fill="none" stroke="#aaa" stroke-width="2" stroke-dasharray="1 4"/>
 <g fill="#e8a840">
  <rect x="1066" y="935" width="2.8" height="58"/><rect x="1076" y="959" width="2.8" height="34"/><rect x="1087.3" y="949.3" width="2.8" height="43.7"/><rect x="1098.3" y="965" width="2.8" height="28"/><rect x="1109" y="948" width="2.8" height="45"/><rect x="1120" y="953.7" width="2.8" height="39.3"/><rect x="1131" y="959" width="2.8" height="34"/><rect x="1142" y="960" width="2.8" height="33"/>
 </g>
 <g fill="#d9482a">
  <rect x="1069.3" y="928.3" width="2.8" height="64.7"/><rect x="1080" y="945.3" width="2.8" height="47.7"/><rect x="1090.7" y="932" width="2.8" height="61"/><rect x="1102" y="953.3" width="2.8" height="39.7"/><rect x="1113" y="930" width="2.8" height="63"/><rect x="1124" y="938" width="2.8" height="55"/><rect x="1135" y="931.7" width="2.8" height="61.3"/><rect x="1146" y="966.7" width="2.8" height="26.3"/>
 </g>
 <g fill="#5b9bd5">
  <rect x="1072.7" y="931.7" width="2.8" height="61.3"/><rect x="1083.3" y="947.7" width="2.8" height="45.3"/><rect x="1094" y="935" width="2.8" height="58"/><rect x="1105.3" y="956" width="2.8" height="37"/><rect x="1116.3" y="933.7" width="2.8" height="59.3"/><rect x="1127.3" y="941" width="2.8" height="52"/><rect x="1138.3" y="963.3" width="2.8" height="29.7"/><rect x="1149.3" y="949.7" width="2.8" height="43.3"/>
 </g>
</g>

<polygon points="1108,1057 1114.84,1069 1101.16,1069" fill="#ecbc4a"/>
<polygon points="1101.16,1069 1114.84,1069 1122.83,1083 1093.17,1083" fill="#e8aa48"/>
<polygon points="1093.17,1083 1122.83,1083 1130.81,1097 1085.19,1097" fill="#e09a30"/>
<polygon points="1085.19,1097 1130.81,1097 1137.66,1109 1078.34,1109" fill="#d9692e"/>
<polygon points="1078.34,1109 1137.66,1109 1144.5,1121 1071.5,1121" fill="#a8502a"/>
<text class="sm" x="1147" y="1071">20%</text>
<text class="sm" x="1147" y="1083">40%</text>
<text class="sm" x="1147" y="1095">50%</text>
<text class="sm" x="1147" y="1107">60%</text>
<text class="sm" x="1147" y="1119">80%</text>

<path d="M1069,1174 V1244 H1158" fill="none" stroke="#666" stroke-width="1"/>
<path d="M1067,1174 V1244 M1069,1246 H1158" fill="none" stroke="#aaa" stroke-width="2" stroke-dasharray="1 4"/>
<g fill="none" stroke-width="1.4">
 <polyline points="1076,1201.7 1090,1196.7 1104.3,1180.7 1106.7,1198.3 1120,1186.7 1126,1191.7 1135,1183.3 1146,1190 1156.7,1177.7" stroke="#eebd6e"/>
 <polyline points="1075.3,1215 1082,1205 1092.3,1213.3 1112.7,1202.3 1123.3,1205 1131.7,1195 1146,1206 1155.7,1205" stroke="#e09a30"/>
 <polyline points="1075.3,1223.3 1083.3,1218.3 1094.3,1221.7 1116.7,1208.3 1120,1214.3 1128.3,1206 1143.3,1215 1156.7,1210" stroke="#d9692e"/>
 <polyline points="1073.3,1240 1083.3,1224.3 1100,1228.3 1105,1226.7 1109.3,1218.3 1121.7,1223.3 1131,1211.7 1144,1226.7 1156.7,1212.3" stroke="#a8502a"/>
 <g stroke="#222" stroke-width="1"><circle cx="1104.3" cy="1180.7" r="2.6"/><circle cx="1112.7" cy="1202.3" r="2.6"/><circle cx="1143.3" cy="1215" r="2.6"/><circle cx="1083.3" cy="1224.3" r="2.6"/></g>
</g>

<g>
 <use href="#man" x="1069" y="1313" fill="#5b9bd5"/><use href="#man" x="1078.3" y="1313" fill="#5b9bd5"/><use href="#man" x="1087.6" y="1313" fill="#5b9bd5"/><use href="#man" x="1096.9" y="1313" fill="#5b9bd5"/><use href="#man" x="1106.2" y="1313" fill="#a8502a"/><use href="#man" x="1115.5" y="1313" fill="#a8502a"/><use href="#man" x="1124.8" y="1313" fill="#a8502a"/>
 <use href="#man" x="1069" y="1331" fill="#5a9a4a"/><use href="#man" x="1078.3" y="1331" fill="#5a9a4a"/><use href="#man" x="1087.6" y="1331" fill="#5a9a4a"/><use href="#man" x="1096.9" y="1331" fill="#5a9a4a"/><use href="#man" x="1106.2" y="1331" fill="#5a9a4a"/><use href="#man" x="1115.5" y="1331" fill="#5a9a4a"/><use href="#man" x="1124.8" y="1331" fill="#5b9bd5"/>
 <use href="#man" x="1069" y="1348" fill="#d9692e"/><use href="#man" x="1078.3" y="1348" fill="#d9692e"/><use href="#man" x="1087.6" y="1348" fill="#d9692e"/><use href="#man" x="1096.9" y="1348" fill="#9a1f4a"/><use href="#man" x="1106.2" y="1348" fill="#9a1f4a"/><use href="#man" x="1115.5" y="1348" fill="#9a1f4a"/><use href="#man" x="1124.8" y="1348" fill="#9a1f4a"/>
 <use href="#man" x="1069" y="1364" fill="#a8502a"/><use href="#man" x="1078.3" y="1364" fill="#a8502a"/><use href="#man" x="1087.6" y="1364" fill="#a8502a"/><use href="#man" x="1096.9" y="1364" fill="#a8502a"/><use href="#man" x="1106.2" y="1364" fill="#a8502a"/><use href="#man" x="1115.5" y="1364" fill="#a8502a"/><use href="#man" x="1124.8" y="1364" fill="#d9692e"/>
</g>
<rect x="1139" y="1317" width="10" height="11" fill="#5b9bd5"/>
<rect x="1139" y="1334" width="10" height="11" fill="#5a9a4a"/>
<rect x="1139" y="1351" width="10" height="11" fill="#d9692e"/>
<rect x="1139" y="1368" width="10" height="11" fill="#a8502a"/>
<text class="sm" x="1152" y="1326">20%</text>
<text class="sm" x="1152" y="1343">40%</text>
<text class="sm" x="1152" y="1360">50%</text>
<text class="sm" x="1152" y="1377">60%</text>

<rect x="1069" y="1449" width="80" height="59" rx="6" fill="#fff" stroke="#a3a3a3" stroke-width="4"/>
<polygon points="1108,1509 1099,1523 1117,1523" fill="#a3a3a3"/>
<use href="#bars6" transform="translate(322.1,845.6) scale(0.71,0.66)"/>

<path d="M1063,1563 V1647 H1157" fill="none" stroke="#666" stroke-width="1"/>
<path d="M1061,1563 V1647 M1063,1649 H1157" fill="none" stroke="#aaa" stroke-width="2" stroke-dasharray="1 4"/>
<polygon points="1067,1643 1078,1618 1089,1643" fill="#a8502a"/>
<polygon points="1090,1643 1101,1624 1112,1643" fill="#5b9bd5"/>
<polygon points="1113,1643 1123,1587 1135,1643" fill="#e09a30"/>
<polygon points="1135,1643 1146,1608 1157,1643" fill="#ecb96c"/>

<!-- CYBER SECURITY -->
<text class="ss" x="352" y="1788" font-size="76" fill="#1a1a1a" textLength="455" lengthAdjust="spacingAndGlyphs">Cyber security</text>
<g transform="translate(0,3596) scale(1,-1)">
 <text class="ss" x="352" y="1788" font-size="76" fill="#b4b4b4" textLength="455" lengthAdjust="spacingAndGlyphs">Cyber security</text>
</g>
<rect x="340" y="1806" width="490" height="70" fill="url(#fade)"/>

<!-- FOOTER ICONS -->
<g>
 <rect x="29" y="1912" width="36" height="25" rx="2" fill="#fff" stroke="#888" stroke-width="2.5"/>
 <polygon points="47,1937 43,1946 51,1946" fill="#888"/>
 <rect x="43" y="1922" width="8" height="9" fill="#888"/>
 <path d="M44.5,1922 V1919 A2.5,2.5 0 0 1 49.5,1919 V1922" fill="none" stroke="#888" stroke-width="1.5"/>

 <path d="M94,1925 V1917 A7,7 0 0 1 108,1917 V1925" fill="none" stroke="#999" stroke-width="3"/>
 <rect x="90" y="1924" width="23" height="22" fill="#999"/>
 <text class="ss" x="101.5" y="1940" font-size="11" fill="#fff" text-anchor="middle">@</text>

 <circle cx="159" cy="1929" r="15" fill="none" stroke="#999" stroke-width="5" stroke-dasharray="4 3"/>
 <circle cx="159" cy="1929" r="11" fill="none" stroke="#999" stroke-width="2"/>
 <rect x="153" y="1929" width="12" height="10" fill="#999"/>
 <path d="M155.5,1929 V1925 A3.5,3.5 0 0 1 162.5,1925 V1929" fill="none" stroke="#999" stroke-width="2"/>

 <rect x="197" y="1915" width="27" height="19" rx="1.5" fill="#fff" stroke="#999" stroke-width="2"/>
 <polygon points="210,1934 206,1942 214,1942" fill="#999"/>
 <rect x="222" y="1930" width="12" height="11" fill="#999"/>
 <path d="M224.5,1930 V1926 A3.5,3.5 0 0 1 231.5,1926 V1930" fill="none" stroke="#999" stroke-width="2"/>

 <g fill="none" stroke="#999" stroke-width="2"><circle cx="266" cy="1925" r="14"/><ellipse cx="266" cy="1925" rx="7" ry="14"/><path d="M252,1925 H280 M266,1911 V1939 M254,1918 H278 M254,1932 H278"/></g>
 <rect x="275" y="1933" width="14" height="13" fill="#999"/>
 <path d="M278,1933 V1929 A4,4 0 0 1 286,1929 V1933" fill="none" stroke="#999" stroke-width="2"/>

 <g fill="#aaa"><circle cx="316" cy="1914" r="3"/><rect x="312" y="1918" width="8" height="26" rx="2"/><circle cx="336" cy="1914" r="3"/><rect x="332" y="1918" width="8" height="26" rx="2"/></g>
 <g fill="#555"><circle cx="326" cy="1913" r="3.5"/><rect x="321" y="1918" width="10" height="28" rx="2"/></g>
 <rect x="336" y="1933" width="12" height="12" fill="#999"/>
 <path d="M338.5,1933 V1929 A3.5,3.5 0 0 1 345.5,1929 V1933" fill="none" stroke="#999" stroke-width="2"/>

 <path d="M45,1985 C36,1977 34,1972 34,1966 C34,1960 42,1958 45,1964 C48,1958 56,1960 56,1966 C56,1972 54,1977 45,1985 Z" fill="#666"/>
 <g fill="#888"><rect x="89" y="1955" width="5" height="24"/><rect x="96" y="1966" width="5" height="13"/><rect x="103" y="1962" width="5" height="17"/><rect x="89" y="1983" width="25" height="3"/></g>
 <circle cx="160" cy="1966" r="12" fill="#aaa"/>
 <path d="M160,1959 V1973 M153,1966 H167" stroke="#fff" stroke-width="4"/>
 <rect x="146" y="1976" width="10" height="10" fill="#999"/>
 <path d="M148,1976 V1973 A3,3 0 0 1 154,1973 V1976" fill="none" stroke="#999" stroke-width="1.8"/>
 <path d="M199,1956 H214 L221,1963 V1988 H199 Z" fill="#fff" stroke="#777" stroke-width="1.5"/>
 <path d="M203,1966 H217 M203,1971 H217 M203,1976 H217 M203,1981 H217" stroke="#777" stroke-width="1.5"/>
 <path d="M252,1955 V1987 H283" fill="none" stroke="#777" stroke-width="1.2"/>
 <polygon points="254,1987 260,1966 266,1987" fill="#666"/>
 <polygon points="262,1987 270,1957 276,1987" fill="#d9692e"/>
 <polygon points="268,1987 275,1962 282,1987" fill="#bbb"/>
 <circle cx="323" cy="1964" r="9" fill="#fff" stroke="#888" stroke-width="2"/>
 <path d="M330,1971 L342,1986" stroke="#888" stroke-width="3"/>
 <rect x="310" y="1976" width="12" height="11" fill="#999"/>
 <path d="M312.5,1976 V1972 A3.5,3.5 0 0 1 319.5,1972 V1976" fill="none" stroke="#999" stroke-width="2"/>

 <g fill="#c4c4c4"><rect x="31" y="1996" width="5" height="5"/><rect x="38" y="1996" width="5" height="5"/><rect x="31" y="2003" width="5" height="5"/><rect x="38" y="2003" width="5" height="5"/><rect x="31" y="2010" width="5" height="5"/></g>
 <path d="M40,2008 L44,2004 L48,2016 L54,2018 L56,2030 L48,2034 L40,2028 L38,2020 Z" fill="#b8b8b8"/>
 <rect x="85" y="2001" width="30" height="22" fill="#fff" stroke="#777" stroke-width="1.5"/>
 <path d="M85,2001 L115,2023 M115,2001 L85,2023" stroke="#777" stroke-width="1.2"/>
 <path d="M146,1994 V2036 H180" fill="none" stroke="#888" stroke-width="1.2"/>
 <path d="M146,2000 H176 M146,2010 H176 M146,2020 H176" stroke="#aaa" stroke-width="0.8" stroke-dasharray="2 2"/>
 <path d="M148,2036 L155,2012 L160,2036 L166,2016 L171,2036 L176,2022 L179,2036" fill="none" stroke="#777" stroke-width="1.2"/>
 <circle cx="213" cy="2012" r="16" fill="#fff" stroke="#333" stroke-width="1.8"/>
 <path d="M213,2012 V1996 A16,16 0 0 1 229,2012 Z" fill="#222"/>
 <g fill="none" stroke="#aaa" stroke-width="2.5" stroke-linecap="round"><path d="M257,2008 A14,14 0 0 1 279,2008"/><path d="M261,2013 A9,9 0 0 1 275,2013"/></g>
 <circle cx="268" cy="2020" r="5" fill="#aaa"/>
 <rect x="272" y="2020" width="10" height="9" fill="#999" transform="rotate(-20 277 2024)"/>
 <g fill="none" stroke="#999" stroke-width="2"><circle cx="322" cy="2012" r="15"/><ellipse cx="322" cy="2012" rx="7" ry="15"/><path d="M307,2012 H337 M322,1997 V2027"/></g>
 <circle cx="330" cy="2008" r="9" fill="#f6f2ef" stroke="#888" stroke-width="2.2"/>
 <path d="M336,2015 L348,2030" stroke="#888" stroke-width="3"/>
</g>

<!-- DESIGN COMPANY -->
<text class="ss" x="719" y="1991" font-size="59" fill="#141414" textLength="171" lengthAdjust="spacingAndGlyphs">Design</text>
<text class="ss" x="983" y="1991" font-size="59" fill="#141414" textLength="241" lengthAdjust="spacingAndGlyphs">Company</text>
<rect x="718" y="2004" width="512" height="18" fill="url(#rb)"/>
</svg>
</body></html>
